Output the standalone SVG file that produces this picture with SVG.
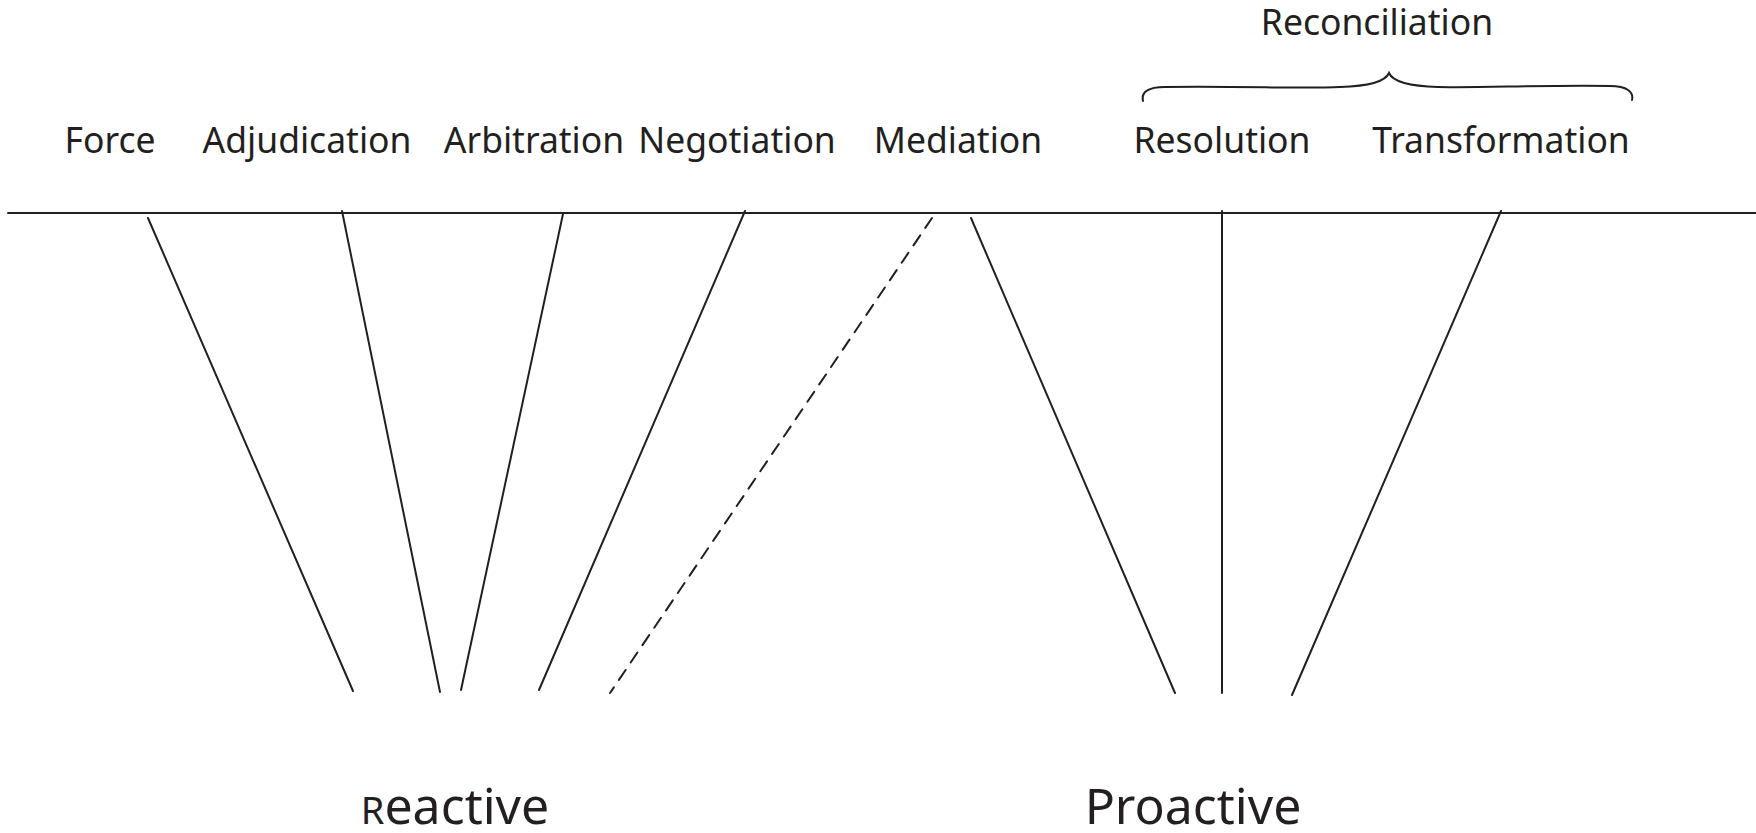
<svg xmlns="http://www.w3.org/2000/svg" width="1756" height="833" viewBox="0 0 1756 833">
<style>
.lbl{font-family:"Noto Sans","Liberation Sans",sans-serif;font-size:35.5px;fill:#231f20;text-anchor:middle}
.big{font-family:"Noto Sans","Liberation Sans",sans-serif;font-size:50px;fill:#231f20;text-anchor:middle}
.ln{stroke:#231f20;stroke-width:2;fill:none;stroke-linecap:round}
</style>
<rect width="1756" height="833" fill="#fff"/>
<g id="labels">
<text id="force" class="lbl" x="110" y="153">Force</text>
<text id="adjudication" class="lbl" x="307" y="153">Adjudication</text>
<text id="arbitration" class="lbl" x="534" y="153">Arbitration</text>
<text id="negotiation" class="lbl" x="737" y="153">Negotiation</text>
<text id="mediation" class="lbl" x="958" y="153">Mediation</text>
<text id="resolution" class="lbl" x="1222" y="153">Resolution</text>
<text id="transformation" class="lbl" x="1501" y="153">Transformation</text>
<text id="reconciliation" class="lbl" x="1377" y="35">Reconciliation</text>
</g>
<g id="brace">
<path class="ln" d="M1143,101 C1141,92 1148,87 1165,87 C1250,86 1300,89 1340,87 C1375,86 1386,80 1389,73 C1392,80 1403,86 1438,87 C1480,88 1540,85 1610,86 C1627,86 1634,92 1632,100"/>
</g>
<g id="connectors">
<line class="ln" x1="8" y1="213" x2="1756" y2="213"/>
<line class="ln" x1="148" y1="218" x2="353" y2="691"/>
<line class="ln" x1="342" y1="211" x2="440" y2="692"/>
<line class="ln" x1="563" y1="214" x2="461" y2="690"/>
<line class="ln" x1="745" y1="211" x2="539" y2="690"/>
<line class="ln" x1="932" y1="218" x2="610" y2="693" stroke-dasharray="12,9" stroke-linecap="butt"/>
<line class="ln" x1="971" y1="218" x2="1175" y2="693"/>
<line class="ln" x1="1222" y1="211" x2="1222" y2="693"/>
<line class="ln" x1="1501" y1="211" x2="1292" y2="695"/>
</g>
<g id="categories">
<text id="reactive" class="big" x="455" y="824"><tspan font-size="38">R</tspan>eactive</text>
<text id="proactive" class="big" x="1193" y="824">Proactive</text>
</g>
</svg>
